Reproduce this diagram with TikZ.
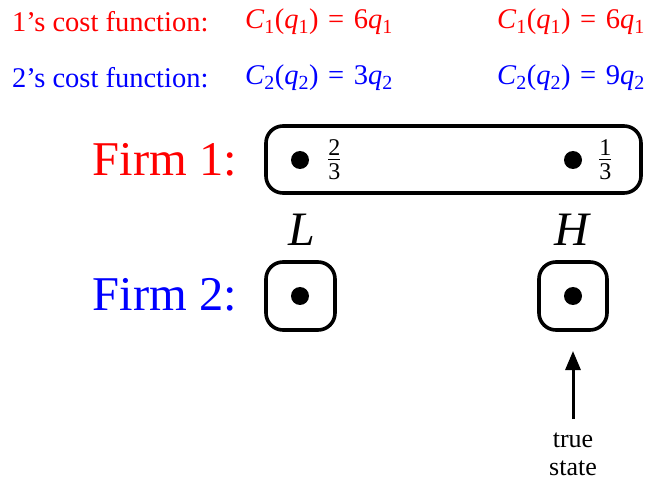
\documentclass[tikz,border=0pt]{standalone}
\usepackage{fontspec}
\usepackage{amsmath}
\setmainfont{Liberation Serif}
\usetikzlibrary{arrows.meta}
\newcommand\sbs[1]{\textsubscript{\fontsize{20}{20}\selectfont #1}}
\newcommand\costeq[2]{\textit{C}\sbs{#1}(\textit{q}\sbs{#1})\,\,=\,\,#2\textit{q}\sbs{#1}}
\newcommand\myfrac[2]{$\genfrac{}{}{0.9pt}{1}{\mbox{\rule[-2.5pt]{0pt}{2.5pt}#1}}{\mbox{\rule{0pt}{19pt}#2}}$}
\begin{document}
\begin{tikzpicture}[x=1pt,y=-1pt,
  costtxt/.style={anchor=west,inner sep=0pt,font=\fontsize{28.5}{30}\selectfont},
  firmtxt/.style={anchor=east,inner sep=0pt,font=\fontsize{48.5}{50}\selectfont},
  statetxt/.style={inner sep=0pt,font=\fontsize{48}{50}\selectfont\itshape},
  cell/.style={draw,line width=3.6pt,rounded corners=17pt},
  dotmark/.style={circle,fill,inner sep=0pt,minimum size=18pt},
  fractxt/.style={anchor=west,inner sep=0pt,font=\fontsize{24}{24}\selectfont},
  smalltxt/.style={inner sep=0pt,font=\fontsize{26}{27}\selectfont,align=center}]
\useasboundingbox (0,0) rectangle (649,484);
% cost function rows
\node[costtxt,text=red] (c1lab) at (12,22) {1’s cost function:};
\node[costtxt,text=red] (c1a) at (245,22) {\costeq{1}{6}};
\node[costtxt,text=red] (c1b) at (497,22) {\costeq{1}{6}};
\node[costtxt,text=blue] (c2lab) at (12,78) {2’s cost function:};
\node[costtxt,text=blue] (c2a) at (245,78) {\costeq{2}{3}};
\node[costtxt,text=blue] (c2b) at (497,78) {\costeq{2}{9}};
% firm 1
\node[firmtxt,text=red] (f1) at (237,160) {Firm 1:};
\draw[cell] (266,126) rectangle (641,193);
\node[dotmark] (d1L) at (300,160) {};
\node[dotmark] (d1H) at (573,160) {};
\node[fractxt] (p1) at (327,160) {\myfrac{2}{3}};
\node[fractxt] (p2) at (598,160) {\myfrac{1}{3}};
% states
\node[statetxt] (L) at (302,230) {L};
\node[statetxt] (H) at (572,230) {H};
% firm 2
\node[firmtxt,text=blue] (f2) at (237,295) {Firm 2:};
\draw[cell] (266,262) rectangle (335,330);
\draw[cell] (539,262) rectangle (607,330);
\node[dotmark] (d2L) at (300,296) {};
\node[dotmark] (d2H) at (573,296) {};
% true state
\node[smalltxt] (ts) at (573,454) {true\\[1pt]state};
\coordinate (astart) at (573,419);
\coordinate (boxbot) at (573,351);
\draw[line width=3pt,-{Triangle[length=19pt,width=15pt]}] (astart) -- (boxbot);
\end{tikzpicture}
\end{document}
